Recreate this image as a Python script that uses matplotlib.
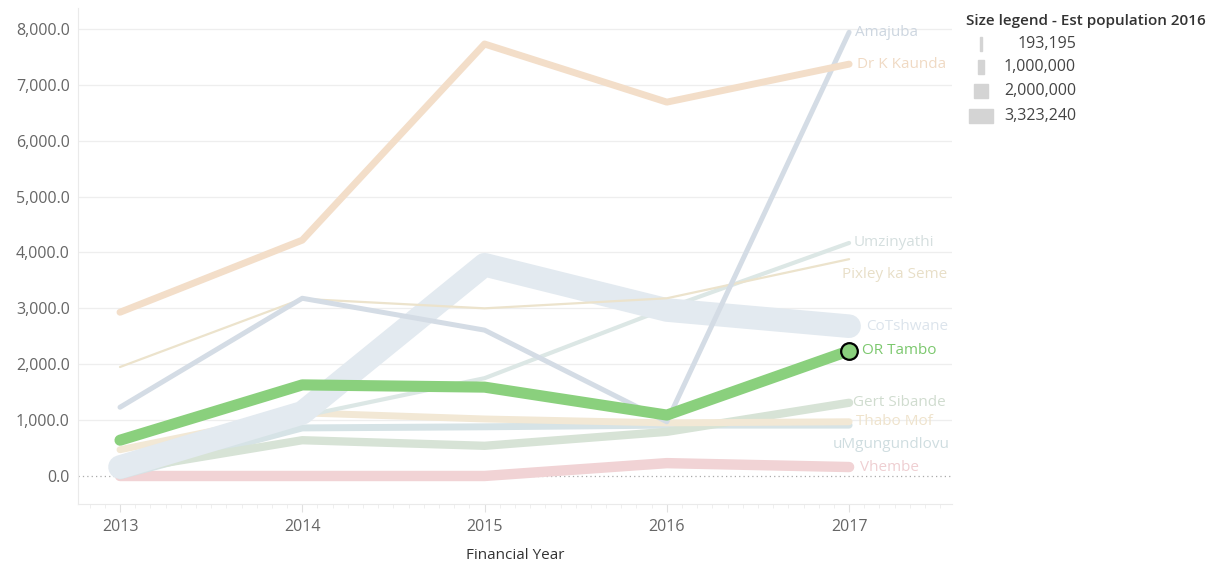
import matplotlib
matplotlib.use("Agg")
import matplotlib.pyplot as plt
from matplotlib.ticker import FuncFormatter, MultipleLocator
from matplotlib.patches import Rectangle

plt.rcParams["font.family"] = ["Open Sans", "DejaVu Sans"]

years = [2013, 2014, 2015, 2016, 2017]

# values
vhembe = [0, 0, 0, 230, 160]
dr_k_kaunda = [2930, 4220, 7730, 6690, 7370]
amajuba = [1230, 3180, 2610, 970, 7940]
pixley = [1950, 3170, 3000, 3180, 3880]
umzinyathi = [50, 1070, 1750, 3000, 4170]
cotshwane = [160, 1130, 3780, 2970, 2680]
gert_sibande = [100, 640, 540, 790, 1310]
thabo_mof = [470, 1130, 1020, 950, 970]
umgungundlovu = [0, 860, 880, 910, 910]
or_tambo = [640, 1630, 1590, 1090, 2240]

legend_values = ["193,195", "1,000,000", "2,000,000", "3,323,240"]

# name, data, colour, width (pt), label offset (pt)
series = [
    ("Vhembe", vhembe, "#f1d3d5", 7.5, (8, 0)),
    ("uMgungundlovu", umgungundlovu, "#d6e3e6", 5.0, (-12, -14)),
    ("Gert Sibande", gert_sibande, "#d7e3d6", 6.0, (3, 0)),
    ("Thabo Mof", thabo_mof, "#f2e8d5", 5.0, (5, 0)),
    ("Umzinyathi", umzinyathi, "#dce7e5", 3.0, (3, 0)),
    ("CoTshwane", cotshwane, "#e3eaf0", 17.0, (12, 0)),
    ("Pixley ka Seme", pixley, "#ece3cc", 1.6, (-5, -11)),
    ("Amajuba", amajuba, "#d4dce5", 3.6, (4, 0)),
    ("Dr K Kaunda", dr_k_kaunda, "#f3dec9", 5.0, (6, 0)),
    ("OR Tambo", or_tambo, "#8ad07d", 8.0, (9, 0)),
]
label_colors = {"OR Tambo": "#7cc86e", "Amajuba": "#cdd6e0", "Dr K Kaunda": "#f0dac4",
                "Umzinyathi": "#d5dfdf", "Pixley ka Seme": "#e8dfc8", "CoTshwane": "#dce4ec",
                "Gert Sibande": "#d0dccf", "Thabo Mof": "#efe3cc", "uMgungundlovu": "#cfdde0",
                "Vhembe": "#efcfd2"}

fig = plt.figure(figsize=(12.2, 5.65), dpi=100)
ax = fig.add_axes([0.064, 0.108, 0.7164, 0.878])

for name, vals, col, lw, off in series:
    ax.plot(years, vals, color=col, lw=lw, solid_capstyle="round", solid_joinstyle="round", zorder=3)
    ax.annotate(name, (years[-1], vals[-1]), xytext=off, textcoords="offset points",
                ha="left", va="center", fontsize=11, color=label_colors[name], zorder=5)

ax.plot(years[-1], or_tambo[-1], "o", ms=12, mfc="#8ad07d", mec="black", mew=1.6, zorder=6)

ax.set_xlim(2012.77, 2017.565)
ax.set_ylim(-501, 8376)
ax.set_xticks(years)
ax.xaxis.set_minor_locator(MultipleLocator(1 / 12))
ax.set_yticks(range(0, 8001, 1000))
ax.yaxis.set_major_formatter(FuncFormatter(lambda v, p: f"{v:,.1f}"))
ax.tick_params(axis="y", length=0, labelsize=11.5, labelcolor="#666666", pad=6)
ax.tick_params(axis="x", which="major", length=6, color="#e0e0e0", labelsize=11.5,
               labelcolor="#666666", pad=5)
ax.tick_params(axis="x", which="minor", length=3, color="#ececec")
ax.grid(axis="y", color="#eeeeee", lw=0.9, zorder=0)
ax.axhline(0, color="#aaaaaa", lw=0.9, ls=(0, (1, 2.5)), zorder=2)
ax.get_ygridlines()[0].set_visible(False)
for s in ("top", "right"):
    ax.spines[s].set_visible(False)
for s in ("left", "bottom"):
    ax.spines[s].set_color("#eaeaea")
ax.set_xlabel("Financial Year", fontsize=11, color="#333333", labelpad=9)

# size legend
fig.text(966 / 1220, 1 - 21 / 565, "Size legend - Est population 2016", fontsize=11,
         color="#333333", fontweight="semibold", va="center", ha="left")
widths = [2, 6, 14, 24]
ys = [44, 67, 91, 116]
for lab, w, y in zip(legend_values, widths, ys):
    fig.patches.append(Rectangle(((981 - w / 2) / 1220, 1 - (y + 7) / 565), w / 1220, 14 / 565,
                                 transform=fig.transFigure, color="#d4d4d4"))
    fig.text(1076 / 1220, 1 - y / 565, lab, fontsize=11.5, color="#444444", ha="right", va="center")

fig.savefig("out.png", dpi=100)
